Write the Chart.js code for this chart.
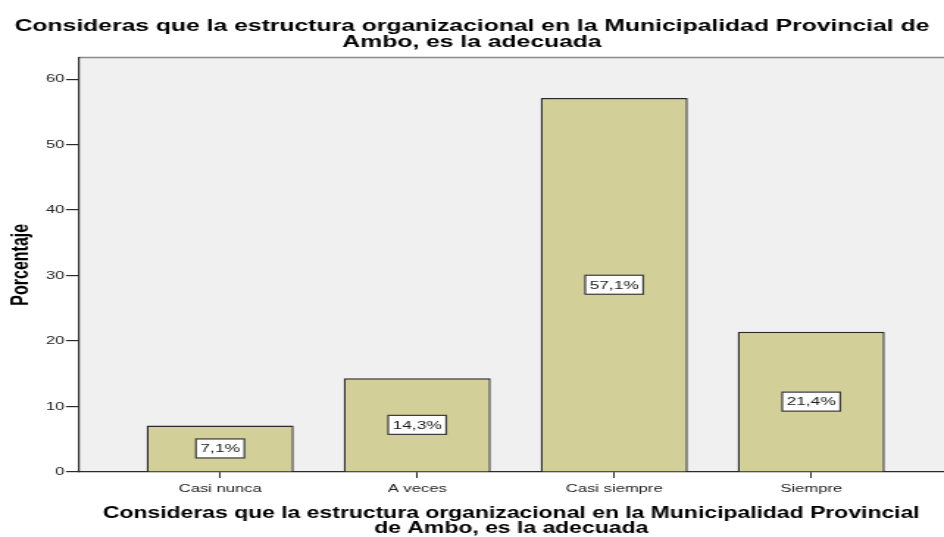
<!DOCTYPE html>
<html>
<head>
<meta charset="utf-8">
<title>Estructura organizacional</title>
<script src="https://cdn.jsdelivr.net/npm/chart.js@4/dist/chart.umd.min.js"></script>
<style>
  html, body { margin: 0; padding: 0; background: #fff; }
  #chart { display: block; }
</style>
</head>
<body>
<!-- the SPSS picture is stretched sideways, so draw narrow and widen with inline css -->
<canvas id="chart" width="642" height="537" style="width:944px;height:537px"></canvas>
<script>
const categories = ['Casi nunca', 'A veces', 'Casi siempre', 'Siempre'];
const percents = [7.1, 14.3, 57.1, 21.4];
const yTicks = [0, 10, 20, 30, 40, 50, 60];

const chartTitle = ['Consideras que la estructura organizacional en la Municipalidad Provincial de', 'Ambo, es la adecuada'];
const xTitle = ['Consideras que la estructura organizacional en la Municipalidad Provincial', 'de Ambo, es la adecuada'];
const yTitle = 'Porcentaje';

const FONT = "'Liberation Sans', Arial, sans-serif";
const AXIS = '#2a2a2a';

// grey plot panel with a thin frame line on top
const plotPanel = {
  id: 'plotPanel',
  beforeDraw(chart) {
    const { ctx, chartArea: a } = chart;
    ctx.save();
    ctx.fillStyle = '#f0f0f0';
    ctx.fillRect(a.left, a.top, a.right - a.left, a.bottom - a.top);
    ctx.strokeStyle = '#8a8a8a';
    ctx.lineWidth = 1.5;
    ctx.beginPath();
    ctx.moveTo(a.left, a.top);
    ctx.lineTo(a.right, a.top);
    ctx.stroke();
    ctx.restore();
  }
};

// white boxed percentage in the middle of each bar
const barLabels = {
  id: 'barLabels',
  afterDatasetsDraw(chart) {
    const { ctx } = chart;
    const meta = chart.getDatasetMeta(0);
    ctx.save();
    ctx.font = `11.8px ${FONT}`;
    ctx.textAlign = 'center';
    ctx.textBaseline = 'middle';
    meta.data.forEach((bar, i) => {
      const text = percents[i].toFixed(1).replace('.', ',') + '%';
      const cy = (bar.y + bar.base) / 2;
      const w = ctx.measureText(text).width + 6;
      const h = 19;
      ctx.fillStyle = '#fff';
      ctx.fillRect(bar.x - w / 2, cy - h / 2, w, h);
      ctx.strokeStyle = '#3a3a3a';
      ctx.lineWidth = 1.2;
      ctx.strokeRect(bar.x - w / 2, cy - h / 2, w, h);
      ctx.fillStyle = '#1a1a1a';
      ctx.fillText(text, bar.x, cy + 0.5);
    });
    ctx.restore();
  }
};

new Chart(document.getElementById('chart'), {
  type: 'bar',
  data: {
    datasets: [{
      data: categories.map((c, i) => ({ x: i + 1, y: percents[i] })),
      backgroundColor: '#d3cf98',
      borderColor: '#2a2a2a',
      borderWidth: 1.4,
      barPercentage: 0.746,
      categoryPercentage: 1
    }]
  },
  options: {
    responsive: false,
    devicePixelRatio: 1,
    animation: false,
    layout: { padding: 0 },
    plugins: {
      legend: { display: false },
      tooltip: { enabled: false },
      title: {
        display: true,
        text: chartTitle,
        color: '#000',
        font: { family: FONT, size: 16.8, weight: 'bold', lineHeight: 1 },
        padding: { top: 17.6, bottom: 6.3 }
      }
    },
    scales: {
      x: {
        type: 'linear',
        position: 'bottom',
        min: 0.281,
        max: 4.674,
        offset: false,
        afterFit(scale) { scale.height = 65; },
        grid: { offset: false, drawOnChartArea: false, tickLength: 6, color: AXIS },
        border: { color: AXIS, width: 1.2 },
        ticks: {
          stepSize: 1,
          includeBounds: false,
          autoSkip: false,
          maxRotation: 0,
          padding: 4,
          color: '#222',
          font: { family: FONT, size: 11.3 },
          callback: v => categories[v - 1] ?? ''
        },
        title: {
          display: true,
          text: xTitle,
          color: '#000',
          font: { family: FONT, size: 15.6, weight: 'bold', lineHeight: 0.96 },
          padding: { top: 0, bottom: 1 }
        }
      },
      y: {
        min: 0,
        max: 63.3,
        afterFit(scale) { scale.width = 53.4; },
        grid: { drawOnChartArea: false, tickLength: 8.5, color: AXIS, lineWidth: 1.2 },
        border: { color: AXIS, width: 1.2 },
        afterBuildTicks(scale) { scale.ticks = yTicks.map(v => ({ value: v })); },
        ticks: {
          padding: 1,
          color: '#222',
          font: { family: FONT, size: 11.3 }
        },
        title: {
          display: true,
          text: yTitle,
          color: '#000',
          font: { family: FONT, size: 16, weight: 'bold', lineHeight: 1 },
          padding: { top: 6.3, bottom: 0 }
        }
      }
    }
  },
  plugins: [plotPanel, barLabels]
});
</script>
</body>
</html>
